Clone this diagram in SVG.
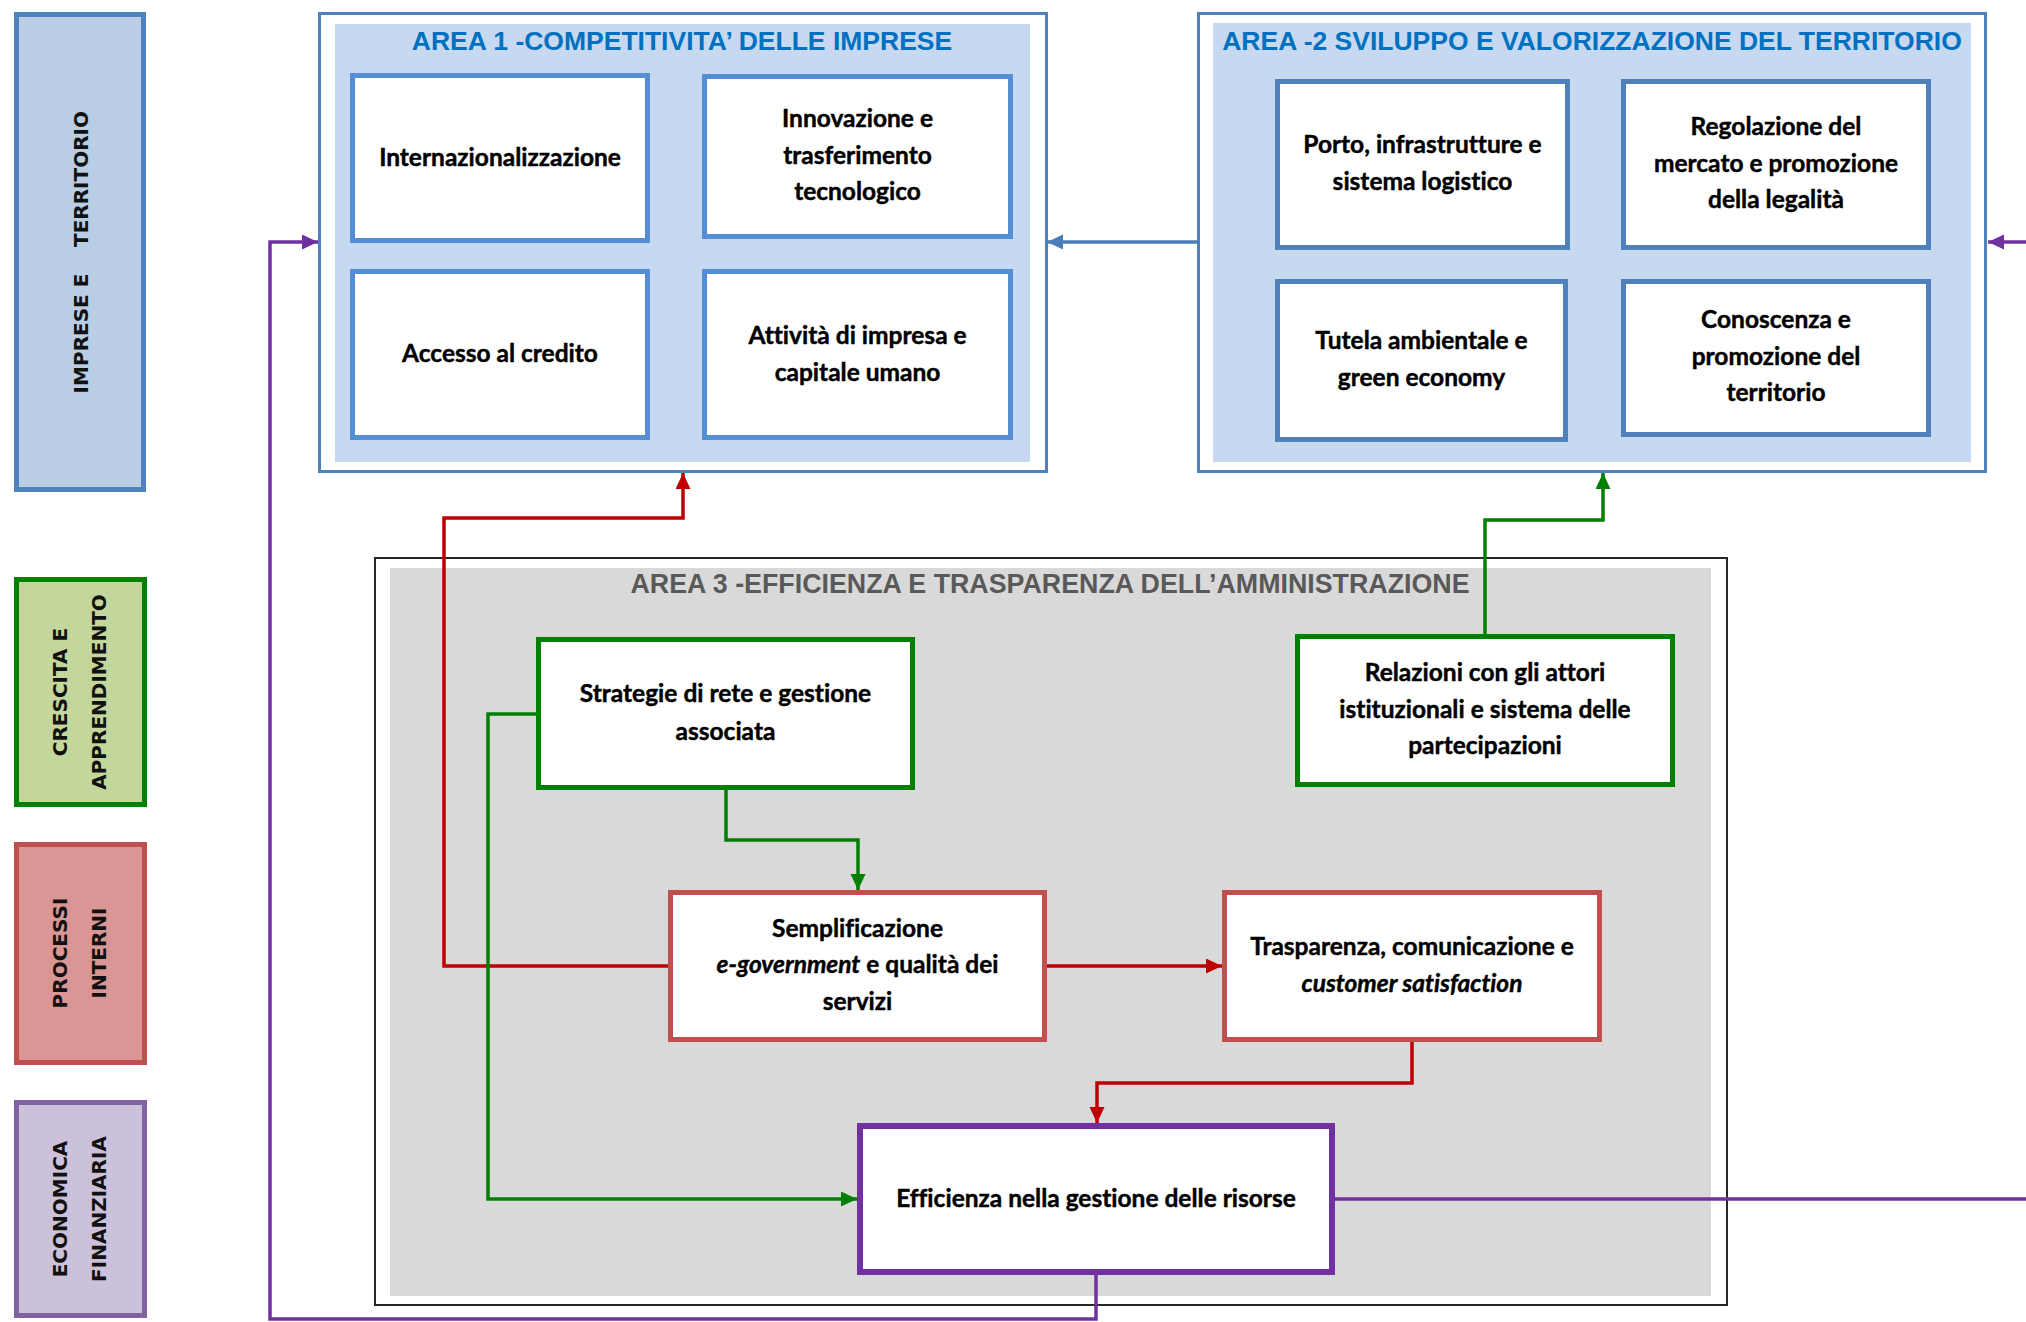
<svg xmlns="http://www.w3.org/2000/svg" width="2026" height="1322" viewBox="0 0 2026 1322">
<style>
.leg{font-family:"DejaVu Sans",Verdana,sans-serif;font-weight:bold;font-size:20px;fill:#111;text-anchor:middle}
.ttl{font-family:"Liberation Sans",Arial,sans-serif;font-weight:bold;font-size:26.5px;text-anchor:middle}
.t{font-family:Lato,"Open Sans",sans-serif;font-weight:bold;font-size:24.5px;fill:#000;stroke:#000;stroke-width:0.45px;text-anchor:middle;font-variant-ligatures:none;font-feature-settings:"liga" 0,"clig" 0}
.it{font-style:italic}
.box{fill:#fff;stroke-width:5}
.b1{stroke:#558ED5}
.b2{stroke:#4F81BD}
.g{stroke:#008000}
.r{stroke:#C0504D}
.p{stroke:#7030A0;stroke-width:6}
.con{fill:none;stroke-width:3.5;stroke-linejoin:miter}
</style>
<defs>
<marker id="aBlue" markerUnits="userSpaceOnUse" markerWidth="16" markerHeight="16" refX="16" refY="7.5" orient="auto"><path d="M0,0 L16,7.5 L0,15 z" fill="#4A7EBB"/></marker>
<marker id="aRed" markerUnits="userSpaceOnUse" markerWidth="16" markerHeight="16" refX="16" refY="7.5" orient="auto"><path d="M0,0 L16,7.5 L0,15 z" fill="#C00000"/></marker>
<marker id="aGreen" markerUnits="userSpaceOnUse" markerWidth="16" markerHeight="16" refX="16" refY="7.5" orient="auto"><path d="M0,0 L16,7.5 L0,15 z" fill="#008000"/></marker>
<marker id="aPurple" markerUnits="userSpaceOnUse" markerWidth="16" markerHeight="16" refX="16" refY="7.5" orient="auto"><path d="M0,0 L16,7.5 L0,15 z" fill="#7030A0"/></marker>
</defs>
<rect width="2026" height="1322" fill="#fff"/>

<!-- Legend -->
<g id="leg-imprese">
<rect x="16.5" y="14.5" width="127" height="475" fill="#B9CDE5" stroke="#4F81BD" stroke-width="5"/>
<text class="leg" transform="rotate(-90)" x="-333.5" y="88">IMPRESE E<tspan x="-179">TERRITORIO</tspan></text>
</g>
<g id="leg-crescita">
<rect x="16.5" y="579.5" width="128" height="225" fill="#C3D69B" stroke="#008000" stroke-width="5"/>
<text class="leg" transform="rotate(-90)" x="-692" y="67">CRESCITA E<tspan x="-692" y="106">APPRENDIMENTO</tspan></text>
</g>
<g id="leg-processi">
<rect x="16.5" y="844.5" width="128" height="218" fill="#D99694" stroke="#C0504D" stroke-width="5"/>
<text class="leg" transform="rotate(-90)" x="-953" y="67">PROCESSI<tspan x="-953" y="106">INTERNI</tspan></text>
</g>
<g id="leg-economica">
<rect x="16.5" y="1102.5" width="128" height="213" fill="#CCC1DA" stroke="#8064A2" stroke-width="5"/>
<text class="leg" transform="rotate(-90)" x="-1209" y="67">ECONOMICA<tspan x="-1209" y="106">FINANZIARIA</tspan></text>
</g>

<!-- Area containers -->
<g id="area1">
<rect x="319.5" y="13.5" width="727" height="458" fill="#fff" stroke="#4F81BD" stroke-width="3"/>
<rect x="335" y="24" width="695" height="438" fill="#C6D9F1"/>
<text class="ttl" x="682" y="50" fill="#0070C0">AREA 1 -COMPETITIVITA’ DELLE IMPRESE</text>
</g>
<g id="area2">
<rect x="1198.5" y="13.5" width="787" height="458" fill="#fff" stroke="#4F81BD" stroke-width="3"/>
<rect x="1213" y="23" width="758" height="439" fill="#C6D9F1"/>
<text class="ttl" x="1592" y="50" fill="#0070C0">AREA -2 SVILUPPO E VALORIZZAZIONE DEL TERRITORIO</text>
</g>
<g id="area3">
<rect x="375" y="558" width="1352" height="747" fill="#fff" stroke="#262626" stroke-width="2"/>
<rect x="390" y="568" width="1321" height="728" fill="#D9D9D9"/>
<text class="ttl" x="1050" y="593" fill="#595959" style="font-size:26.8px">AREA 3 -EFFICIENZA E TRASPARENZA DELL’AMMINISTRAZIONE</text>
</g>

<!-- Connectors -->
<g id="connectors">
<path class="con" stroke="#4A7EBB" d="M1197,242 H1047" marker-end="url(#aBlue)"/>
<path class="con" stroke="#7030A0" d="M2026,242 H1988" marker-end="url(#aPurple)"/>
<path class="con" stroke="#7030A0" d="M1335,1199 H2026"/>
<path class="con" stroke="#7030A0" d="M1096,1275 V1319 H270 V242 H318" marker-end="url(#aPurple)"/>
<path class="con" stroke="#C00000" d="M668,966 H444 V518 H683 V473" marker-end="url(#aRed)"/>
<path class="con" stroke="#C00000" d="M1047,966 H1222" marker-end="url(#aRed)"/>
<path class="con" stroke="#C00000" d="M1412,1042 V1083 H1097 V1123" marker-end="url(#aRed)"/>
<path class="con" stroke="#008000" d="M726,790 V840 H858 V890" marker-end="url(#aGreen)"/>
<path class="con" stroke="#008000" d="M536,714 H488 V1199 H857" marker-end="url(#aGreen)"/>
<path class="con" stroke="#008000" d="M1485,635 V520 H1603 V473" marker-end="url(#aGreen)"/>
</g>

<!-- Area 1 nodes -->
<g id="n-internazionalizzazione">
<rect class="box b1" x="352.5" y="75.5" width="295" height="165"/>
<text class="t" x="500" y="166">Internazionalizzazione</text>
</g>
<g id="n-innovazione">
<rect class="box b1" x="704.5" y="76.5" width="306" height="160"/>
<text class="t" x="857.5" y="127">Innovazione e<tspan x="857.5" y="163.5">trasferimento</tspan><tspan x="857.5" y="200">tecnologico</tspan></text>
</g>
<g id="n-accesso">
<rect class="box b1" x="352.5" y="271.5" width="295" height="166"/>
<text class="t" x="500" y="362">Accesso al credito</text>
</g>
<g id="n-attivita">
<rect class="box b1" x="704.5" y="271.5" width="306" height="166"/>
<text class="t" x="857.5" y="343.5">Attività di impresa e<tspan x="857.5" y="380.5">capitale umano</tspan></text>
</g>

<!-- Area 2 nodes -->
<g id="n-porto">
<rect class="box b2" x="1277.5" y="81.5" width="290" height="166"/>
<text class="t" x="1422.5" y="153">Porto, infrastrutture e<tspan x="1422.5" y="190">sistema logistico</tspan></text>
</g>
<g id="n-regolazione">
<rect class="box b2" x="1623.5" y="81.5" width="305" height="166"/>
<text class="t" x="1776" y="135">Regolazione del<tspan x="1776" y="171.5">mercato e promozione</tspan><tspan x="1776" y="208">della legalità</tspan></text>
</g>
<g id="n-tutela">
<rect class="box b2" x="1277.5" y="281.5" width="288" height="158"/>
<text class="t" x="1421.5" y="349">Tutela ambientale e<tspan x="1421.5" y="386">green economy</tspan></text>
</g>
<g id="n-conoscenza">
<rect class="box b2" x="1623.5" y="281.5" width="305" height="153"/>
<text class="t" x="1776" y="328">Conoscenza e<tspan x="1776" y="364.5">promozione del</tspan><tspan x="1776" y="401">territorio</tspan></text>
</g>

<!-- Area 3 nodes -->
<g id="n-strategie">
<rect class="box g" x="538.5" y="639.5" width="374" height="148"/>
<text class="t" x="725.5" y="702">Strategie di rete e gestione<tspan x="725.5" y="739.5">associata</tspan></text>
</g>
<g id="n-relazioni">
<rect class="box g" x="1297.5" y="636.5" width="375" height="148"/>
<text class="t" x="1485" y="681">Relazioni con gli attori<tspan x="1485" y="717.5">istituzionali e sistema delle</tspan><tspan x="1485" y="754">partecipazioni</tspan></text>
</g>
<g id="n-semplificazione">
<rect class="box r" x="670.5" y="892.5" width="374" height="147"/>
<text class="t" x="857.5" y="936.5">Semplificazione<tspan x="857.5" y="973"><tspan class="it">e-government</tspan> e qualità dei</tspan><tspan x="857.5" y="1009.5">servizi</tspan></text>
</g>
<g id="n-trasparenza">
<rect class="box r" x="1224.5" y="892.5" width="375" height="147"/>
<text class="t" x="1412" y="955">Trasparenza, comunicazione e<tspan class="it" x="1412" y="992">customer satisfaction</tspan></text>
</g>
<g id="n-efficienza">
<rect class="box p" x="860" y="1126" width="472" height="146"/>
<text class="t" x="1096" y="1206.5">Efficienza nella gestione delle risorse</text>
</g>
</svg>
